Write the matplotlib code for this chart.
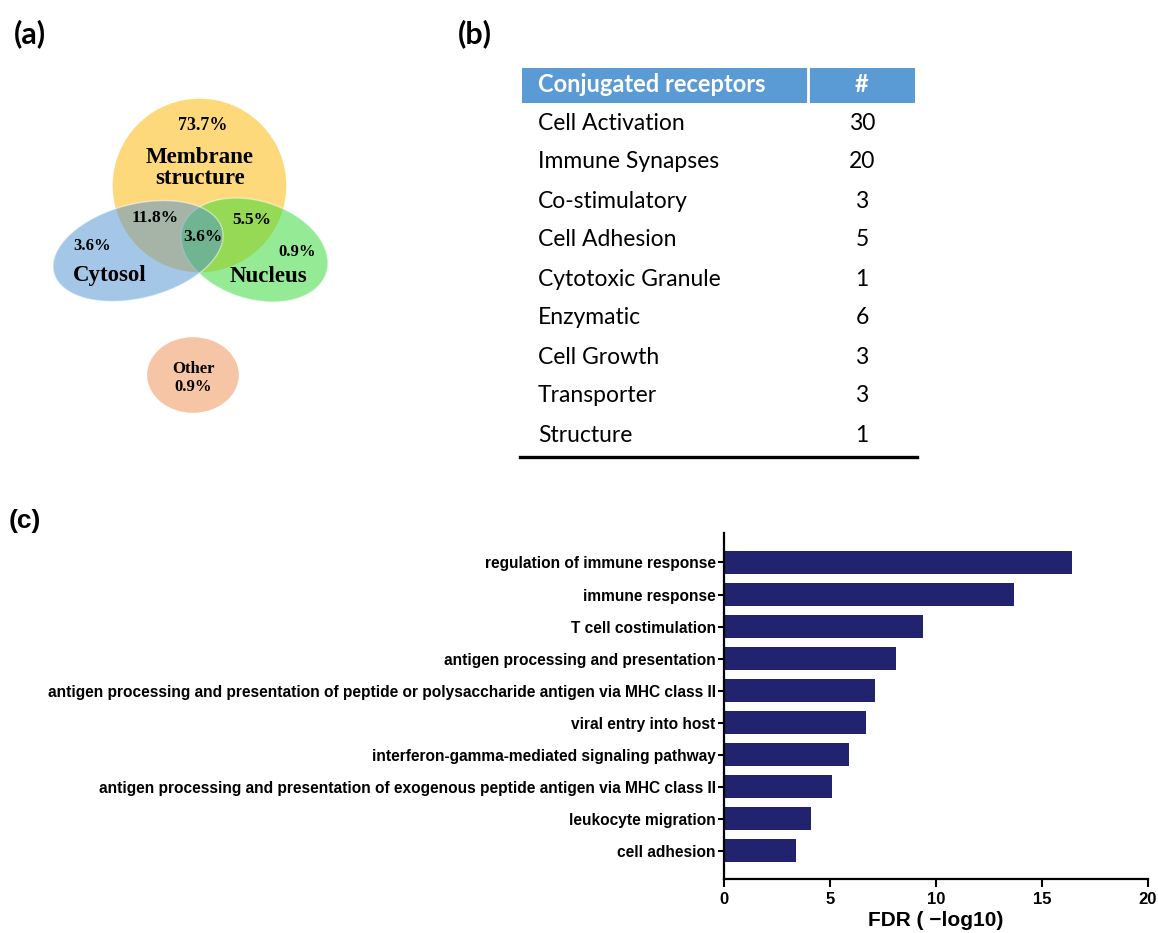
import matplotlib
matplotlib.use("Agg")
import matplotlib.pyplot as plt
from matplotlib.patches import Ellipse, Rectangle

# (a) subcellular location of conjugated proteins, percent
venn_names = ["Membrane\nstructure", "Cytosol", "Nucleus"]
venn_only = [73.7, 3.6, 0.9]          # membrane, cytosol, nucleus alone
venn_pairs = [11.8, 5.5]              # membrane+cytosol, membrane+nucleus
venn_all = 3.6
other_pct = 0.9

# (b) conjugated receptor classes
receptor_classes = ["Cell Activation", "Immune Synapses", "Co-stimulatory",
                    "Cell Adhesion", "Cytotoxic Granule", "Enzymatic",
                    "Cell Growth", "Transporter", "Structure"]
receptor_counts = [30, 20, 3, 5, 1, 6, 3, 3, 1]

# (c) GO enrichment
go_terms = ["regulation of immune response",
            "immune response",
            "T cell costimulation",
            "antigen processing and presentation",
            "antigen processing and presentation of peptide or polysaccharide antigen via MHC class II",
            "viral entry into host",
            "interferon-gamma-mediated signaling pathway",
            "antigen processing and presentation of exogenous peptide antigen via MHC class II",
            "leukocyte migration",
            "cell adhesion"]
fdr_log = [16.4, 13.7, 9.4, 8.1, 7.1, 6.7, 5.9, 5.1, 4.1, 3.4]

W, H = 1158, 933
fig = plt.figure(figsize=(W / 100, H / 100), dpi=100)

# full-figure canvas in pixel units for panels a and b
bg = fig.add_axes([0, 0, 1, 1])
bg.set_xlim(0, W)
bg.set_ylim(H, 0)
bg.axis("off")

sans = "Liberation Sans"
serif = "Liberation Serif"
cal = "Lato"

# panel letters
bg.text(30, 34, "(a)", fontsize=22, fontweight="bold", family=cal,
        ha="center", va="center")
bg.text(475, 34, "(b)", fontsize=22, fontweight="bold", family=cal,
        ha="center", va="center")
bg.text(25, 521, "(c)", fontsize=19, fontweight="bold", family=sans,
        ha="center", va="center")

# ---- (a) Venn ----
bg.add_patch(Ellipse((199.5, 185.5), 175, 175, facecolor="#FED97C",
                     edgecolor="white", lw=1))
bg.add_patch(Ellipse((254.5, 250), 151, 98, angle=17.6, facecolor="#2DD92D",
                     alpha=0.5, edgecolor="white", lw=1))
bg.add_patch(Ellipse((138, 251), 174, 94, angle=-14.5, facecolor="#4D91D1",
                     alpha=0.5, edgecolor="white", lw=1))
bg.add_patch(Ellipse((193, 375), 93, 77, facecolor="#F6C5A5",
                     edgecolor="white", lw=1))

name_pos = [(200, 168), (110, 275), (268, 276)]
for nm, (px, py) in zip(venn_names, name_pos):
    bg.text(px, py, nm, fontsize=16.5, fontweight="bold", family=serif,
            ha="center", va="center", linespacing=0.95)

only_pos = [(203, 126), (92, 246), (297, 252)]
for v, (px, py), fs in zip(venn_only, only_pos, [13, 12, 12]):
    bg.text(px, py, f"{v}%", fontsize=fs, fontweight="bold", family=serif,
            ha="center", va="center")
for v, (px, py) in zip(venn_pairs, [(155, 218), (252, 220)]):
    bg.text(px, py, f"{v}%", fontsize=12.5, fontweight="bold", family=serif,
            ha="center", va="center")
bg.text(203, 237, f"{venn_all}%", fontsize=12.5, fontweight="bold", family=serif,
        ha="center", va="center")
bg.text(193, 378, f"Other\n{other_pct}%", fontsize=12, fontweight="bold",
        family=serif, ha="center", va="center", linespacing=1.15)

# ---- (b) table ----
bg.add_patch(Rectangle((522, 68), 393, 35, facecolor="#5B9BD5", edgecolor="none"))
bg.plot([808, 808], [68, 103], color="white", lw=2)
bg.text(538, 85, "Conjugated receptors", fontsize=17, fontweight="bold",
        color="white", family=cal, ha="left", va="center")
bg.text(862, 85, "#", fontsize=17, fontweight="bold", color="white",
        family=cal, ha="center", va="center")
row_y0, row_dy = 123, 39.0
for i, (c, n) in enumerate(zip(receptor_classes, receptor_counts)):
    y = row_y0 + i * row_dy
    bg.text(538, y, c, fontsize=16.5, family=cal, ha="left", va="center")
    bg.text(862, y, str(n), fontsize=16.5, family=cal, ha="center", va="center")
bg.plot([520, 917], [457, 457], color="black", lw=2.4)

# ---- (c) bar chart ----
ax = fig.add_axes([724 / W, (H - 879) / H, 424 / W, 346 / H])
ypos = list(range(len(go_terms)))
ax.barh(ypos, fdr_log, height=0.72, color="#22236F")
ax.set_ylim(len(go_terms) - 0.12, -0.92)
ax.set_xlim(0, 20)
ax.set_xticks([0, 5, 10, 15, 20])
ax.set_yticks(ypos)
ax.set_yticklabels(go_terms, fontsize=11.2, fontweight="bold", family=sans)
for t in ax.get_xticklabels():
    t.set_fontsize(12)
    t.set_fontweight("bold")
    t.set_family(sans)
ax.set_xlabel("FDR ( \u2212log10)", fontsize=15, fontweight="bold",
              family=sans, labelpad=3)
for s in ["top", "right"]:
    ax.spines[s].set_visible(False)
for s in ["left", "bottom"]:
    ax.spines[s].set_linewidth(1.6)
ax.tick_params(axis="y", length=4, width=1.5, pad=2)
ax.tick_params(axis="x", length=6, width=1.5, pad=3)

fig.savefig("out.png", dpi=100)
